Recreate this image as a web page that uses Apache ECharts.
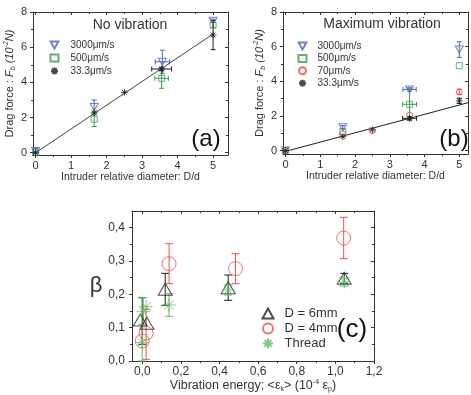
<!DOCTYPE html>
<html>
<head>
<meta charset="utf-8">
<script src="https://cdn.jsdelivr.net/npm/echarts@6/dist/echarts.min.js"></script>
<style>
  html, body { margin: 0; background: #fff; }
  #chart { width: 471px; height: 395px; }
</style>
</head>
<body>
<div id="chart"></div>
<script>
// ---- (a) no vibration: [D/d, drag force] ----
const a3000 = [[0, 0.1], [1.65, 2.6], [3.57, 5.17], [5, 7.5]];
const a500 = [[0, 0], [1.65, 1.91], [3.55, 4.23], [5, 7.26]];
const a33 = [[0, 0], [1.65, 2.27], [2.5, 3.43], [3.55, 4.76], [5, 6.69]];
// error bars: [x, y, dy, dx]
const a3000Err = [[0, 0.1, 0.15, 0], [1.65, 2.6, 0.4, 0], [3.57, 5.17, 0.66, 0.2], [5, 7.5, 0.1, 0]];
const a500Err = [[1.65, 1.91, 0.42, 0], [3.55, 4.23, 0.57, 0.19], [5, 7.26, 0.15, 0]];
const a33Err = [[3.55, 4.76, 0.1, 0.28], [5, 6.69, 0.83, 0]];
const aFit = [[0, 0], [5, 6.75]];

// ---- (b) maximum vibration ----
const b3000 = [[0, 0], [1.65, 1.34], [3.57, 3.53], [5, 5.83]];
const b500 = [[0, 0], [1.65, 1.1], [3.57, 2.67], [5, 4.9]];
const b70 = [[0, 0], [1.65, 0.95], [2.5, 1.15], [3.57, 2.05], [5, 3.39]];
const b33 = [[0, 0], [1.65, 0.8], [2.5, 1.19], [3.57, 1.86], [5, 2.87]];
const b3000Err = [[1.65, 1.34, 0.1, 0], [3.57, 3.53, 0.1, 0.19], [5, 5.83, 0.45, 0]];
const b500Err = [[3.57, 2.67, 0.9, 0.2]];
const b70Err = [[5, 3.39, 0.15, 0]];
const b33Err = [[3.57, 1.86, 0.1, 0.2], [5, 2.87, 0.15, 0]];
const bFit = [[0, -0.05], [5.25, 2.76]];

// ---- (c) beta vs vibration energy ----
const cD6 = [[-0.01, 0.123], [0.024, 0.113], [0.119, 0.215], [0.445, 0.22], [1.046, 0.248]];
const cD4 = [[0, 0.06], [0.02, 0.083], [0.139, 0.292], [0.483, 0.277], [1.043, 0.369]];
const cThread = [[0, 0.055], [0.005, 0.148], [0.02, 0.163], [0.139, 0.168], [0.445, 0.213], [1.046, 0.237]];
const cD6Err = [[0, 0.12, 0.07], [0.119, 0.215, 0.048], [0.445, 0.22, 0.038], [1.046, 0.248, 0.015]];
const cD4Err = [[0.02, 0.08, 0.075], [0.139, 0.292, 0.06], [0.483, 0.277, 0.045], [1.043, 0.369, 0.062]];
const cThreadErr = [[0, 0.055, 0.055], [0.005, 0.15, 0.04], [0.139, 0.168, 0.034], [0.445, 0.213, 0.015], [1.046, 0.237, 0.012]];

// ticks
const abXMajor = [0, 1, 2, 3, 4, 5];
const abXMinor = [0.5, 1.5, 2.5, 3.5, 4.5];
const abYMajor = [0, 2, 4, 6, 8];
const abYMinor = [1, 3, 5, 7];
const cXMajor = [0, 0.2, 0.4, 0.6, 0.8, 1.0, 1.2];
const cXMinor = [0.1, 0.3, 0.5, 0.7, 0.9, 1.1];
const cYMajor = [0, 0.1, 0.2, 0.3, 0.4];
const cYMinor = [0.05, 0.15, 0.25, 0.35];

const FONT = 'Liberation Sans, Arial, sans-serif';
const axisColor = '#333';
const textColor = '#333';
const BLUE = '#5263bd', GREEN = '#3f9b4f', BLACK = '#1e1e1e', RED = '#ee4a44';
const C_GREEN = '#62b862', C_RED = '#f05050';

const triDown = 'path://M0,0 L10,0 L5,9 Z';
const triUp = 'path://M5,0 L10,9 L0,9 Z';
const star = 'path://M5,0 L5,10 M0,5 L10,5 M1.5,1.5 L8.5,8.5 M8.5,1.5 L1.5,8.5';

const chart = echarts.init(document.getElementById('chart'));

const xAxes = [];
const yAxes = [];

// main axis with labels + minor ticks axis + mirrored frame axis on the other side
function addAxes(list, dim, grid, min, max, majors, minors, label, name) {
  const mainPos = dim === 'x' ? 'bottom' : 'left';
  const otherPos = dim === 'x' ? 'top' : 'right';
  const base = { type: 'value', gridIndex: grid, min: min, max: max, splitLine: { show: false } };
  const lineStyle = { color: axisColor, width: 1 };
  const idx = list.length;
  list.push(Object.assign({}, base, {
    position: mainPos,
    name: name.text,
    nameLocation: 'middle',
    nameGap: name.gap,
    nameRotate: name.rotate,
    nameTextStyle: name.style,
    axisLine: { onZero: false, lineStyle: lineStyle },
    axisTick: { inside: false, length: 3, customValues: majors, lineStyle: lineStyle },
    axisLabel: { customValues: majors, formatter: label.fmt, fontSize: label.size,
                 color: textColor, margin: label.margin, fontFamily: FONT }
  }));
  list.push(Object.assign({}, base, {
    position: mainPos,
    axisLine: { show: false, onZero: false },
    axisTick: { inside: false, length: 2, customValues: minors, lineStyle: lineStyle },
    axisLabel: { show: false }
  }));
  list.push(Object.assign({}, base, {
    position: otherPos,
    axisLine: { onZero: false, lineStyle: lineStyle },
    axisTick: { inside: true, length: 3, customValues: majors, lineStyle: lineStyle },
    axisLabel: { show: false }
  }));
  list.push(Object.assign({}, base, {
    position: otherPos,
    axisLine: { show: false, onZero: false },
    axisTick: { inside: true, length: 2, customValues: minors, lineStyle: lineStyle },
    axisLabel: { show: false }
  }));
  return idx;
}

const intFmt = v => String(Math.round(v));
const commaFmt = v => v.toFixed(1).replace('.', ',');
const smallName = { fontSize: 10.5, color: textColor, fontFamily: FONT };
const dragName = {
  fontSize: 11, color: textColor, fontFamily: FONT, lineHeight: 14,
  rich: {
    i: { fontSize: 11, fontStyle: 'italic', color: textColor, fontFamily: FONT },
    sub: { fontSize: 7, color: textColor, fontFamily: FONT, verticalAlign: 'bottom', lineHeight: 14, fontStyle: 'italic' },
    sup: { fontSize: 7, color: textColor, fontFamily: FONT, verticalAlign: 'top', lineHeight: 14, fontStyle: 'italic' }
  }
};
const dragText = 'Drag force : {i|F}{sub|b} {i|(10}{sup|-2}{i|N)}';

const axA = addAxes(xAxes, 'x', 0, -0.075, 5.42, abXMajor, abXMinor,
  { fmt: intFmt, size: 11, margin: 5 },
  { text: 'Intruder relative diameter: D/d', gap: 17, style: smallName });
const ayA = addAxes(yAxes, 'y', 0, -0.13, 8, abYMajor, abYMinor,
  { fmt: intFmt, size: 11, margin: 6 },
  { text: dragText, gap: 14, rotate: 90, style: dragName });
const axB = addAxes(xAxes, 'x', 1, -0.07, 5.25, abXMajor, abXMinor,
  { fmt: intFmt, size: 11, margin: 5 },
  { text: 'Intruder relative diameter: D/d', gap: 15, style: smallName });
const ayB = addAxes(yAxes, 'y', 1, -0.2, 8, abYMajor, abYMinor,
  { fmt: intFmt, size: 11, margin: 6 },
  { text: dragText, gap: 14, rotate: 90, style: dragName });
const axC = addAxes(xAxes, 'x', 2, -0.053, 1.2, cXMajor, cXMinor,
  { fmt: commaFmt, size: 12, margin: 5 },
  { text: 'Vibration energy; <ε{sub|k}> (10{sup|-4} ε{sub|p})', gap: 17,
    style: { fontSize: 12.5, color: textColor, fontFamily: FONT, lineHeight: 14,
      rich: {
        sub: { fontSize: 7, color: textColor, fontFamily: FONT, verticalAlign: 'bottom', lineHeight: 14 },
        sup: { fontSize: 7, color: textColor, fontFamily: FONT, verticalAlign: 'top', lineHeight: 14 }
      } } });
const ayC = addAxes(yAxes, 'y', 2, 0, 0.45, cYMajor, cYMinor,
  { fmt: commaFmt, size: 12, margin: 7 },
  { text: 'β', gap: 25, rotate: 0, style: { fontSize: 22, color: textColor, fontFamily: FONT } });

// error bars drawn through the axes
function errRender(cap) {
  return function (params, api) {
    const x = api.value(0), y = api.value(1);
    const dy = api.value(2) || 0, dx = api.value(3) || 0;
    const style = { stroke: api.visual('color'), lineWidth: 1, fill: null };
    const kids = [];
    if (dy > 0) {
      const p1 = api.coord([x, y + dy]), p2 = api.coord([x, y - dy]);
      kids.push({ type: 'line', shape: { x1: p1[0], y1: p1[1], x2: p2[0], y2: p2[1] }, style: style });
      kids.push({ type: 'line', shape: { x1: p1[0] - cap, y1: p1[1], x2: p1[0] + cap, y2: p1[1] }, style: style });
      kids.push({ type: 'line', shape: { x1: p2[0] - cap, y1: p2[1], x2: p2[0] + cap, y2: p2[1] }, style: style });
    }
    if (dx > 0) {
      const p1 = api.coord([x - dx, y]), p2 = api.coord([x + dx, y]);
      kids.push({ type: 'line', shape: { x1: p1[0], y1: p1[1], x2: p2[0], y2: p2[1] }, style: style });
      kids.push({ type: 'line', shape: { x1: p1[0], y1: p1[1] - cap, x2: p1[0], y2: p1[1] + cap }, style: style });
      kids.push({ type: 'line', shape: { x1: p2[0], y1: p2[1] - cap, x2: p2[0], y2: p2[1] + cap }, style: style });
    }
    return { type: 'group', children: kids };
  };
}

function errSeries(data, color, xi, yi, cap) {
  return {
    type: 'custom', xAxisIndex: xi, yAxisIndex: yi, data: data,
    encode: { x: 0, y: 1 }, itemStyle: { color: color },
    renderItem: errRender(cap), silent: true, z: 1
  };
}

function pts(name, data, symbol, size, color, xi, yi, width) {
  return {
    name: name, type: 'scatter', xAxisIndex: xi, yAxisIndex: yi, data: data,
    symbol: symbol, symbolSize: size, z: 3,
    itemStyle: { color: 'none', borderColor: color, borderWidth: width || 1 }
  };
}

function fit(data, color, xi, yi) {
  return {
    type: 'line', xAxisIndex: xi, yAxisIndex: yi, data: data, showSymbol: false,
    lineStyle: { color: color, width: 1 }, silent: true, z: 2
  };
}

const legendText = (pad) => ({ fontSize: 10, color: textColor, fontFamily: FONT, padding: [0, 0, 0, pad], lineHeight: 12 });

chart.setOption({
  animation: false,
  backgroundColor: '#fff',
  grid: [
    { left: 33, top: 12, width: 195, height: 143 },
    { left: 283, top: 12, width: 185, height: 142 },
    { left: 132, top: 211, width: 242, height: 150 }
  ],
  xAxis: xAxes,
  yAxis: yAxes,
  legend: [
    { data: ['3000μm/s', '500μm/s', '33.3μm/s'], orient: 'vertical', left: 48, top: 39,
      itemWidth: 8, itemHeight: 7, itemGap: 1, padding: 0, textStyle: legendText(7) },
    { data: ['3000μm/s', '500μm/s', '70μm/s', '33.3μm/s'], orient: 'vertical', left: 296, top: 40,
      itemWidth: 8, itemHeight: 7, itemGap: 0.4, padding: 0, textStyle: legendText(6) },
    { data: ['D = 6mm', 'D = 4mm', 'Thread'], orient: 'vertical', left: 260, top: 306,
      itemWidth: 11, itemHeight: 10, itemGap: 0, padding: 0,
      textStyle: { fontSize: 13, color: textColor, fontFamily: FONT, padding: [0, 0, 0, 6], lineHeight: 14 } }
  ],
  graphic: [
    { type: 'text', x: 130, y: 25, style: { text: 'No vibration', font: '14px ' + FONT, fill: textColor, align: 'center', verticalAlign: 'middle' } },
    { type: 'text', x: 382, y: 24, style: { text: 'Maximum vibration', font: '14px ' + FONT, fill: textColor, align: 'center', verticalAlign: 'middle' } },
    { type: 'text', x: 206, y: 139, style: { text: '(a)', font: '24px ' + FONT, fill: '#111', align: 'center', verticalAlign: 'middle' } },
    { type: 'text', x: 454, y: 139, style: { text: '(b)', font: '24px ' + FONT, fill: '#111', align: 'center', verticalAlign: 'middle' } },
    { type: 'text', x: 352, y: 330, style: { text: '(c)', font: '26px ' + FONT, fill: '#111', align: 'center', verticalAlign: 'middle' } }
  ],
  series: [
    // (a)
    fit(aFit, '#444', axA, ayA),
    errSeries(a3000Err, BLUE, axA, ayA, 2.5),
    errSeries(a500Err, GREEN, axA, ayA, 2.5),
    errSeries(a33Err, BLACK, axA, ayA, 2.5),
    pts('3000μm/s', a3000, triDown, [8, 7], BLUE, axA, ayA),
    pts('500μm/s', a500, 'rect', 6, GREEN, axA, ayA),
    pts('33.3μm/s', a33, star, 7, BLACK, axA, ayA),
    // (b)
    fit(bFit, '#222', axB, ayB),
    errSeries(b3000Err, BLUE, axB, ayB, 2.5),
    errSeries(b500Err, GREEN, axB, ayB, 2.5),
    errSeries(b70Err, RED, axB, ayB, 2.5),
    errSeries(b33Err, BLACK, axB, ayB, 2.5),
    pts('3000μm/s', b3000, triDown, [8, 7], BLUE, axB, ayB),
    pts('500μm/s', b500, 'rect', 6, GREEN, axB, ayB),
    pts('70μm/s', b70, 'circle', 6, RED, axB, ayB),
    pts('33.3μm/s', b33, star, 7, BLACK, axB, ayB),
    // (c)
    errSeries(cD6Err, BLACK, axC, ayC, 4),
    errSeries(cD4Err, C_RED, axC, ayC, 4),
    errSeries(cThreadErr, C_GREEN, axC, ayC, 4),
    pts('D = 6mm', cD6, triUp, [14, 12], BLACK, axC, ayC),
    pts('D = 4mm', cD4, 'circle', 14, C_RED, axC, ayC),
    pts('Thread', cThread, star, 13, C_GREEN, axC, ayC)
  ]
});
</script>
</body>
</html>
